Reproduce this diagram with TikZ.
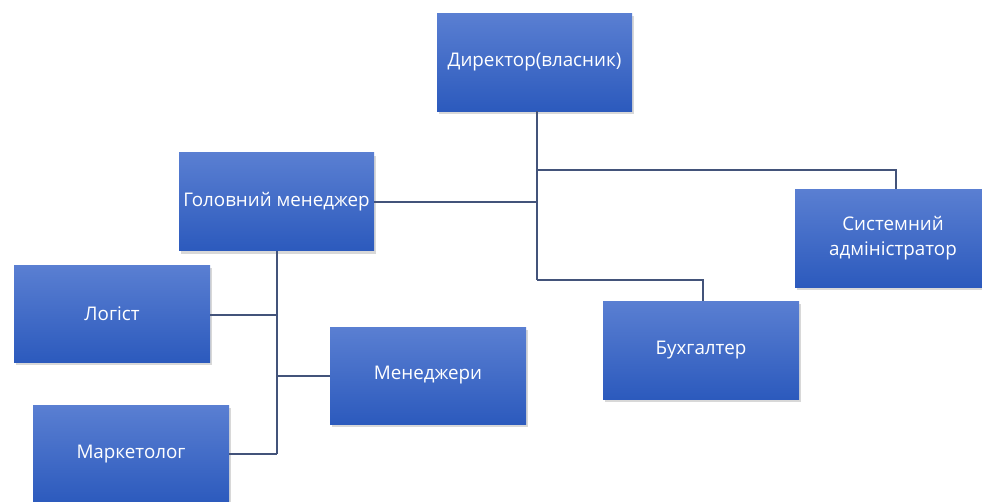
\documentclass[tikz,border=0pt]{standalone}
\usepackage{fontspec}
\setmainfont{Open Sans}
\usetikzlibrary{shadows,calc}
\definecolor{boxtop}{HTML}{5A7FD2}
\definecolor{boxbot}{HTML}{2C5ABD}
\definecolor{linec}{HTML}{43537A}
\tikzset{
  orgbox/.style={rectangle, minimum width=196pt, minimum height=98pt, inner sep=0pt,
    top color=boxtop, bottom color=boxbot, text=white, align=center,
    font=\fontsize{18.8}{25}\selectfont,
    drop shadow={opacity=0.3, shadow xshift=2pt, shadow yshift=-3pt}},
  conn/.style={draw=linec, line width=1.9pt}
}
\begin{document}
\begin{tikzpicture}[x=1pt,y=-1pt]
\useasboundingbox (0,0) rectangle (982,501);
\fill[white] (0,0) rectangle (982,501);
\node[orgbox, minimum width=195pt] (dir) at (534.5,62) {Директор(власник)};
\node[orgbox, minimum width=195pt] (head) at (276.5,201.5) {Головний менеджер};
\node[orgbox, minimum height=97pt] (log) at (112,313.5) {Логіст};
\node[orgbox, minimum height=97pt] (mgr) at (428,375.5) {Менеджери};
\node[orgbox] (mkt) at (131,454) {Маркетолог};
\node[orgbox] (acc) at (701,350) {Бухгалтер};
\node[orgbox, minimum width=196pt] (sys) at (893,238) {Системний\\адміністратор};
\coordinate (j1) at (537,170);
\coordinate (j2) at (537,202);
\coordinate (j3) at (537,280);
\coordinate (k1) at (277,315);
\coordinate (k2) at (277,376);
\coordinate (k3) at (277,454);
\draw[conn] (dir.south -| j1) -- (j3);
\draw[conn] (j1) -| (sys.north -| 896,0);
\draw[conn] (j2) -- (head.east |- j2);
\draw[conn] (j3) -| (acc.north -| 703,0);
\draw[conn] (head.south -| k1) -- (k3);
\draw[conn] (log.east |- k1) -- (k1);
\draw[conn] (k2) -- (mgr.west |- k2);
\draw[conn] (mkt.east |- k3) -- (k3);
\end{tikzpicture}
\end{document}
